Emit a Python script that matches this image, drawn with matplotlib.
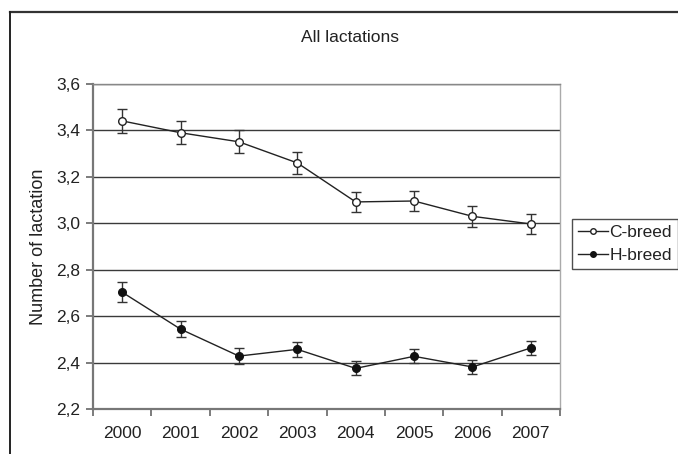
import numpy as np
import matplotlib.pyplot as plt
from matplotlib.lines import Line2D

plt.rcParams['font.family'] = ['Liberation Sans', 'DejaVu Sans']

years = ['2000', '2001', '2002', '2003', '2004', '2005', '2006', '2007']
c_breed = [3.441, 3.390, 3.351, 3.260, 3.092, 3.096, 3.030, 2.997]
c_err = [0.050, 0.050, 0.050, 0.048, 0.043, 0.043, 0.046, 0.044]
h_breed = [2.703, 2.544, 2.428, 2.457, 2.375, 2.427, 2.381, 2.463]
h_err = [0.042, 0.035, 0.033, 0.033, 0.030, 0.030, 0.030, 0.030]
yticks = [2.2, 2.4, 2.6, 2.8, 3.0, 3.2, 3.4, 3.6]

txt = '#222222'
fig = plt.figure(figsize=(6.78, 4.54), dpi=100)
ax = fig.add_axes([93/678, 1-409/454, (560-93)/678, (409-84)/454])

x = np.arange(len(years)) + 0.5

for yv in yticks[1:]:
    ax.axhline(yv, color='#3a3a3a', lw=1.0, zorder=1)

ax.errorbar(x, c_breed, yerr=c_err, color='#222222', lw=1.0, marker='o',
            markersize=5.5, markerfacecolor='white', markeredgecolor='#222222',
            markeredgewidth=1.0, ecolor='#333333', elinewidth=1.0, capsize=3.5,
            capthick=1.0, zorder=3)
ax.errorbar(x, h_breed, yerr=h_err, color='#222222', lw=1.0, marker='o',
            markersize=5.5, markerfacecolor='#111111', markeredgecolor='#111111',
            ecolor='#333333', elinewidth=1.0, capsize=3.5, capthick=1.0, zorder=3)

ax.set_xlim(0, len(years))
ax.set_ylim(2.2, 3.6)
ax.set_yticks(yticks)
ax.set_yticklabels([f'{v:.1f}'.replace('.', ',') for v in yticks])
ax.set_xticks(np.arange(len(years) + 1))
ax.set_xticklabels([])
ax.set_xticks(x, minor=True)
ax.set_xticklabels(years, minor=True)
ax.tick_params(axis='x', which='minor', length=0, pad=12, labelsize=12.5, labelcolor=txt)
ax.tick_params(axis='x', which='major', length=5, width=1.2, color='#666666')
ax.tick_params(axis='y', length=5, width=1.2, color='#666666', pad=4,
               labelsize=12.5, labelcolor=txt)

for s in ['left', 'bottom']:
    ax.spines[s].set_color('#777777')
    ax.spines[s].set_linewidth(1.6)
ax.spines['top'].set_color('#888888')
ax.spines['top'].set_linewidth(1.0)
ax.spines['right'].set_color('#aaaaaa')
ax.spines['right'].set_linewidth(1.0)

ax.set_ylabel('Number of lactation', fontsize=13, color=txt, labelpad=7)
fig.text(350/678, 1-37/454, 'All lactations', ha='center', va='center',
         fontsize=12.5, color=txt)

handles = [
    Line2D([], [], color='#222222', lw=1.0, marker='o', markersize=4,
           markerfacecolor='white', markeredgecolor='#222222'),
    Line2D([], [], color='#222222', lw=1.0, marker='o', markersize=4,
           markerfacecolor='#111111', markeredgecolor='#111111'),
]
leg = fig.legend(handles, ['C-breed', 'H-breed'], loc='upper left',
                 bbox_to_anchor=(572/678, 1-219/454), frameon=True,
                 fancybox=False, fontsize=12.5, handlelength=1.7,
                 handletextpad=0.1, borderpad=0.35, labelspacing=0.45,
                 borderaxespad=0)
leg.get_frame().set_edgecolor('#222222')
leg.get_frame().set_linewidth(1.0)
for t in leg.get_texts():
    t.set_color(txt)

# outer frame (top and left only visible)
fig.add_artist(Line2D([10/678, 1], [1-12/454, 1-12/454], color='#333333', lw=1.6))
fig.add_artist(Line2D([10/678, 10/678], [0, 1-12/454], color='#222222', lw=1.4))

fig.savefig('out.png', dpi=100)
